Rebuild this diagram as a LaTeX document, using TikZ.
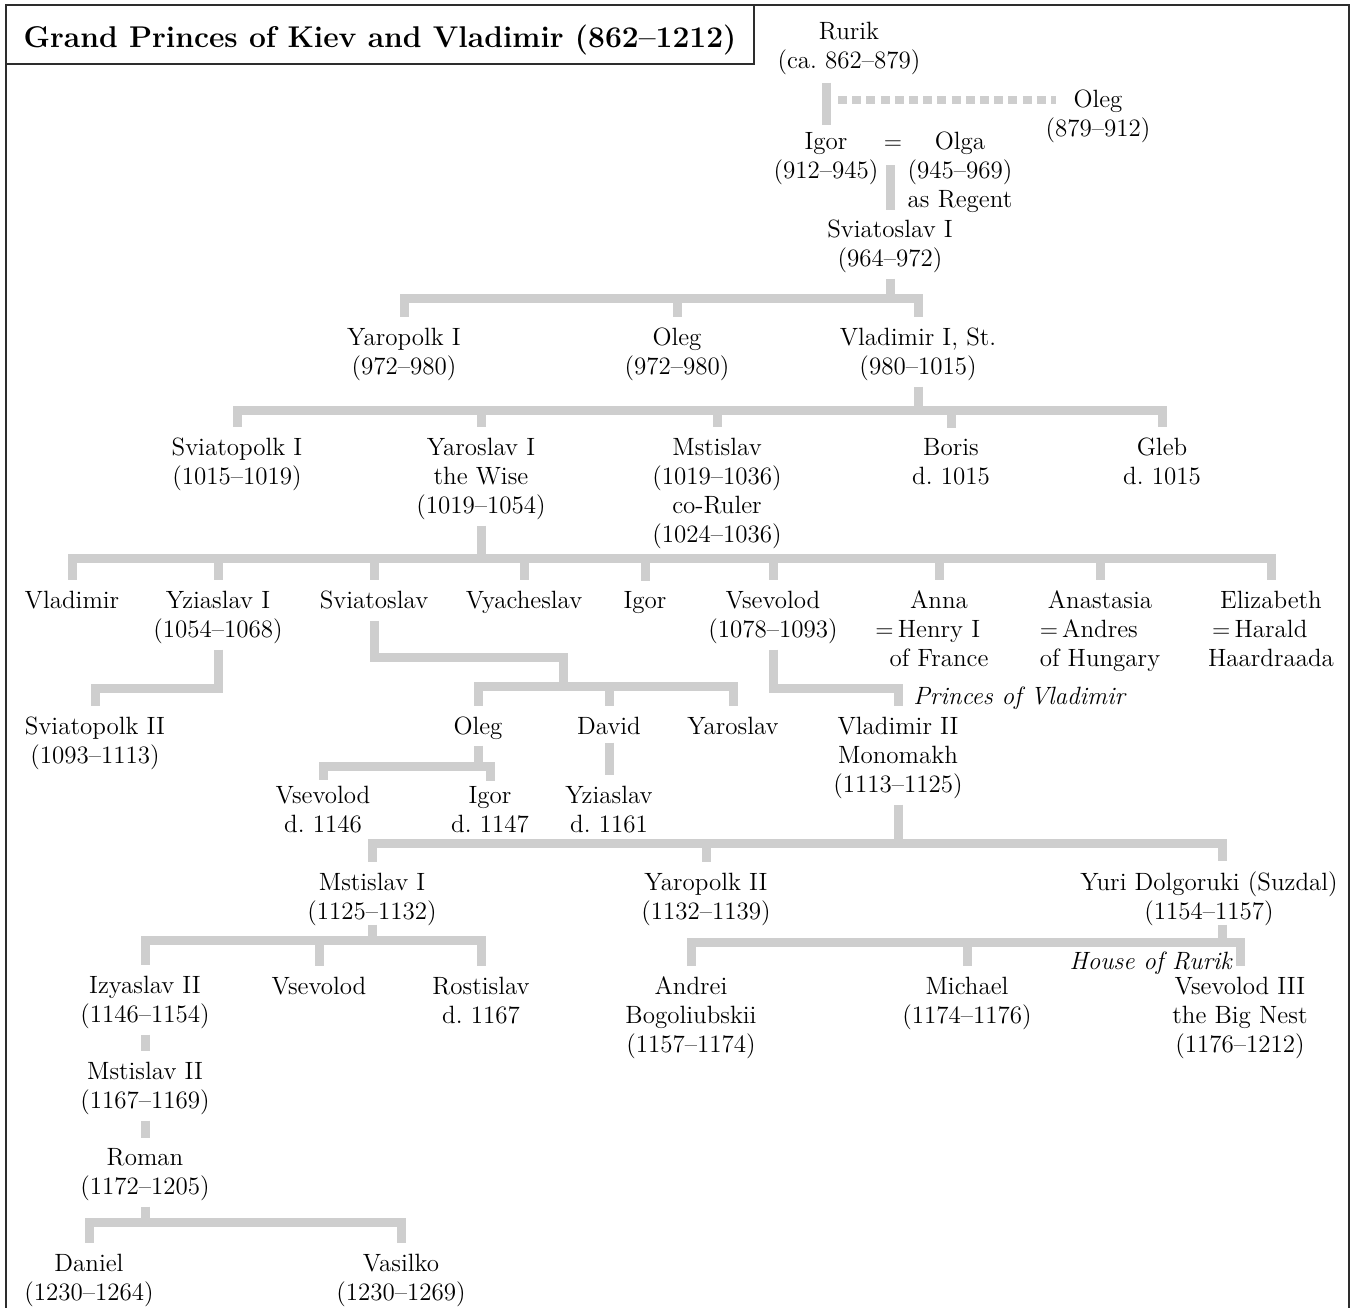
\documentclass[tikz,border=0pt]{standalone}
\usepackage{tikz}
\usepackage{xcolor}
\usetikzlibrary{calc}
\definecolor{stemgray}{RGB}{206,206,206}
\definecolor{framec}{RGB}{45,45,45}
\newcommand{\namefont}{\fontsize{12.5}{14.5}\selectfont}
\newcommand{\titlefont}{\fontsize{15}{17}\selectfont\bfseries}
\tikzset{
  person/.style={align=center,anchor=base,inner sep=1pt,font=\namefont},
  famline/.style={draw=stemgray,line width=4.5pt},
  barline/.style={famline,line cap=rect},
  regent/.style={draw=stemgray,line width=4pt,dash pattern=on 4.5pt off 2.6pt},
  frameline/.style={draw=framec,line width=1pt},
  note/.style={font=\namefont\itshape,inner sep=0pt}
}

\begin{document}
\begin{tikzpicture}[x=0.5pt,y=-0.5pt]
\useasboundingbox (0,0) rectangle (1351,1308);

% frame and title
\draw[frameline] (6,1308) -- (6,5) -- (1349,5) -- (1349,1308);
\draw[frameline] (6,5) rectangle (754,64);
\node[font=\titlefont,anchor=base] (title) at (380,47)
  {Grand Princes of Kiev and Vladimir (862--1212)};

% people, row by row (y = baseline of the last line)
\node[person] (rurik) at (849,68) {Rurik\\(ca.~862--879)};
\node[person] (oleg1) at (1098,136) {Oleg\\(879--912)};
\node[person] (igor) at (826,178) {Igor\\(912--945)};
\node[person] (eq) at (893,149) {$=$};
\node[person] (olga) at (960,207) {Olga\\(945--969)\\as Regent};
\node[person] (sv1) at (890,266) {Sviatoslav I\\(964--972)};

\node[person] (yp1) at (404,374) {Yaropolk I\\(972--980)};
\node[person] (oleg2) at (677,374) {Oleg\\(972--980)};
\node[person] (vl1) at (918,374) {Vladimir I, St.\\(980--1015)};

\node[person] (spk1) at (237,484) {Sviatopolk I\\(1015--1019)};
\node[person] (yar1) at (481,513) {Yaroslav I\\the Wise\\(1019--1054)};
\node[person] (msl) at (717,542) {Mstislav\\(1019--1036)\\co-Ruler\\(1024--1036)};
\node[person] (boris) at (951,484) {Boris\\d.~1015};
\node[person] (gleb) at (1162,484) {Gleb\\d.~1015};

\node[person] (vlad) at (72,608) {Vladimir};
\node[person] (yz1) at (218,637) {Yziaslav I\\(1054--1068)};
\node[person] (svt) at (374,608) {Sviatoslav};
\node[person] (vya) at (524,608) {Vyacheslav};
\node[person] (igor2) at (645,608) {Igor};
\node[person] (vsev) at (773,637) {Vsevolod\\(1078--1093)};
\node[person] (anna) at (939,666) {Anna\\\llap{$=$\,}Henry I\\of France};
\node[person] (anast) at (1100,666) {Anastasia\\\llap{$=$\,}Andres\\of Hungary};
\node[person] (eliz) at (1271,666) {Elizabeth\\\llap{$=$\,}Harald\\Haardraada};

\node[person] (sp2) at (95,763) {Sviatopolk II\\(1093--1113)};
\node[person] (oleg3) at (478,734) {Oleg};
\node[person] (david) at (609,734) {David};
\node[person] (yar3) at (733,734) {Yaroslav};
\node[person] (vl2) at (898,792) {Vladimir II\\Monomakh\\(1113--1125)};

\node[person] (vs4) at (323,832) {Vsevolod\\d.~1146};
\node[person] (igor4) at (490,832) {Igor\\d.~1147};
\node[person] (yz4) at (609,832) {Yziaslav\\d.~1161};

\node[person] (ms1) at (372,919) {Mstislav I\\(1125--1132)};
\node[person] (yp2) at (706,919) {Yaropolk II\\(1132--1139)};
\node[person] (yuri) at (1209,919) {Yuri Dolgoruki (Suzdal)\\(1154--1157)};

\node[person] (izy2) at (145,1022) {Izyaslav II\\(1146--1154)};
\node[person] (vs5) at (319,994) {Vsevolod};
\node[person] (rost) at (481,1023) {Rostislav\\d.~1167};
\node[person] (andr) at (691,1052) {Andrei\\Bogoliubskii\\(1157--1174)};
\node[person] (mich) at (967,1023) {Michael\\(1174--1176)};
\node[person] (vs3) at (1240,1052) {Vsevolod III\\the Big Nest\\(1176--1212)};

\node[person] (ms2) at (145,1108) {Mstislav II\\(1167--1169)};
\node[person] (roman) at (145,1194) {Roman\\(1172--1205)};
\node[person] (daniel) at (89,1300) {Daniel\\(1230--1264)};
\node[person] (vasilko) at (401,1300) {Vasilko\\(1230--1269)};

\node[note,anchor=base west] (pv) at (913,704) {Princes of Vladimir};
\node[note,anchor=base east] (hr) at (1232,969) {House of Rurik};

% Rurik, Oleg the regent, Igor = Olga
\coordinate (rk) at (826,100);
\draw[famline] ([yshift=-3pt]rurik.south -| igor.north) -- ([yshift=2.5pt]igor.north);
\draw[regent] ([xshift=6pt]rk) -- ([xshift=6.5pt]rk -| oleg1.west);
\draw[famline] ([yshift=-8pt]eq.base -| sv1.north) -- ([yshift=3.5pt]sv1.north);

% plain forks: parent / bar / parent gap / kid gap / first / last / children
\foreach \pa/\by/\pg/\kg/\fst/\lst/\kids in {
   sv1/298/-2/4/yp1/vl1/{yp1,oleg2,vl1},
   vl1/410/-2/4/spk1/gleb/{spk1,yar1,msl,boris,gleb},
   yar1/558/-2/4/vlad/eliz/{vlad,yz1,svt,vya,igor2,vsev,anna,anast,eliz},
   oleg3/766/-2/1.5/vs4/igor4/{vs4,igor4},
   ms1/940/1.5/4/izy2/rost/{izy2,vs5,rost},
   roman/1222/-2/4/daniel/vasilko/{daniel,vasilko}}{
  \coordinate (bar) at (0,\by);
  \draw[famline] ([yshift=\pg pt]\pa.south) -- (\pa.south |- bar);
  \draw[barline] (\fst.north |- bar) -- (\lst.north |- bar);
  \foreach \k in \kids
    \draw[famline] (\k.north |- bar) -- ([yshift=\kg pt]\k.north);
}

% Vladimir II -> Mstislav I, Yaropolk II, Yuri
\coordinate (vbar) at (0,843);
\coordinate (yuritop) at ([xshift=6.5pt,yshift=4pt]yuri.north);
\draw[famline] ([yshift=-2pt]vl2.south) -- (vl2.south |- vbar);
\draw[barline] (ms1.north |- vbar) -- (yuritop |- vbar);
\foreach \k in {ms1,yp2}
  \draw[famline] (\k.north |- vbar) -- ([yshift=4pt]\k.north);
\draw[famline] (yuritop |- vbar) -- (yuritop);

% Yuri -> Andrei, Michael, Vsevolod III
\coordinate (ybar) at (0,942);
\draw[famline] ([xshift=6.5pt,yshift=1.5pt]yuri.south) -- (yuritop |- ybar);
\draw[barline] (andr.north |- ybar) -- (vs3.north |- ybar);
\foreach \k in {andr,mich,vs3}
  \draw[famline] (\k.north |- ybar) -- ([yshift=4pt]\k.north);

% elbows
\coordinate (lowbar) at (0,688);
\draw[famline] ([yshift=-2pt]yz1.south) -- (yz1.south |- lowbar)
  -- (sp2.north |- lowbar) -- ([yshift=4pt]sp2.north);
\draw[famline] ([yshift=-2pt]vsev.south) -- (vsev.south |- lowbar)
  -- (vl2.north |- lowbar) -- ([yshift=4pt]vl2.north);

\coordinate (bend) at (563,657);
\coordinate (sbar) at (0,686);
\draw[famline] ([yshift=-5pt]svt.south) -- (svt.south |- bend) -- (bend)
  -- (bend |- sbar);
\draw[barline] (oleg3.north |- sbar) -- (yar3.north |- sbar);
\foreach \k in {oleg3,david,yar3}
  \draw[famline] (\k.north |- sbar) -- ([yshift=4pt]\k.north);

% single lines
\draw[famline] ([yshift=-3pt]david.south) -- ([yshift=4pt]yz4.north);
\draw[famline] ([yshift=-2pt]izy2.south) -- ([yshift=4pt]ms2.north);
\draw[famline] ([yshift=-2pt]ms2.south) -- ([yshift=4pt]roman.north);

\end{tikzpicture}
\end{document}
